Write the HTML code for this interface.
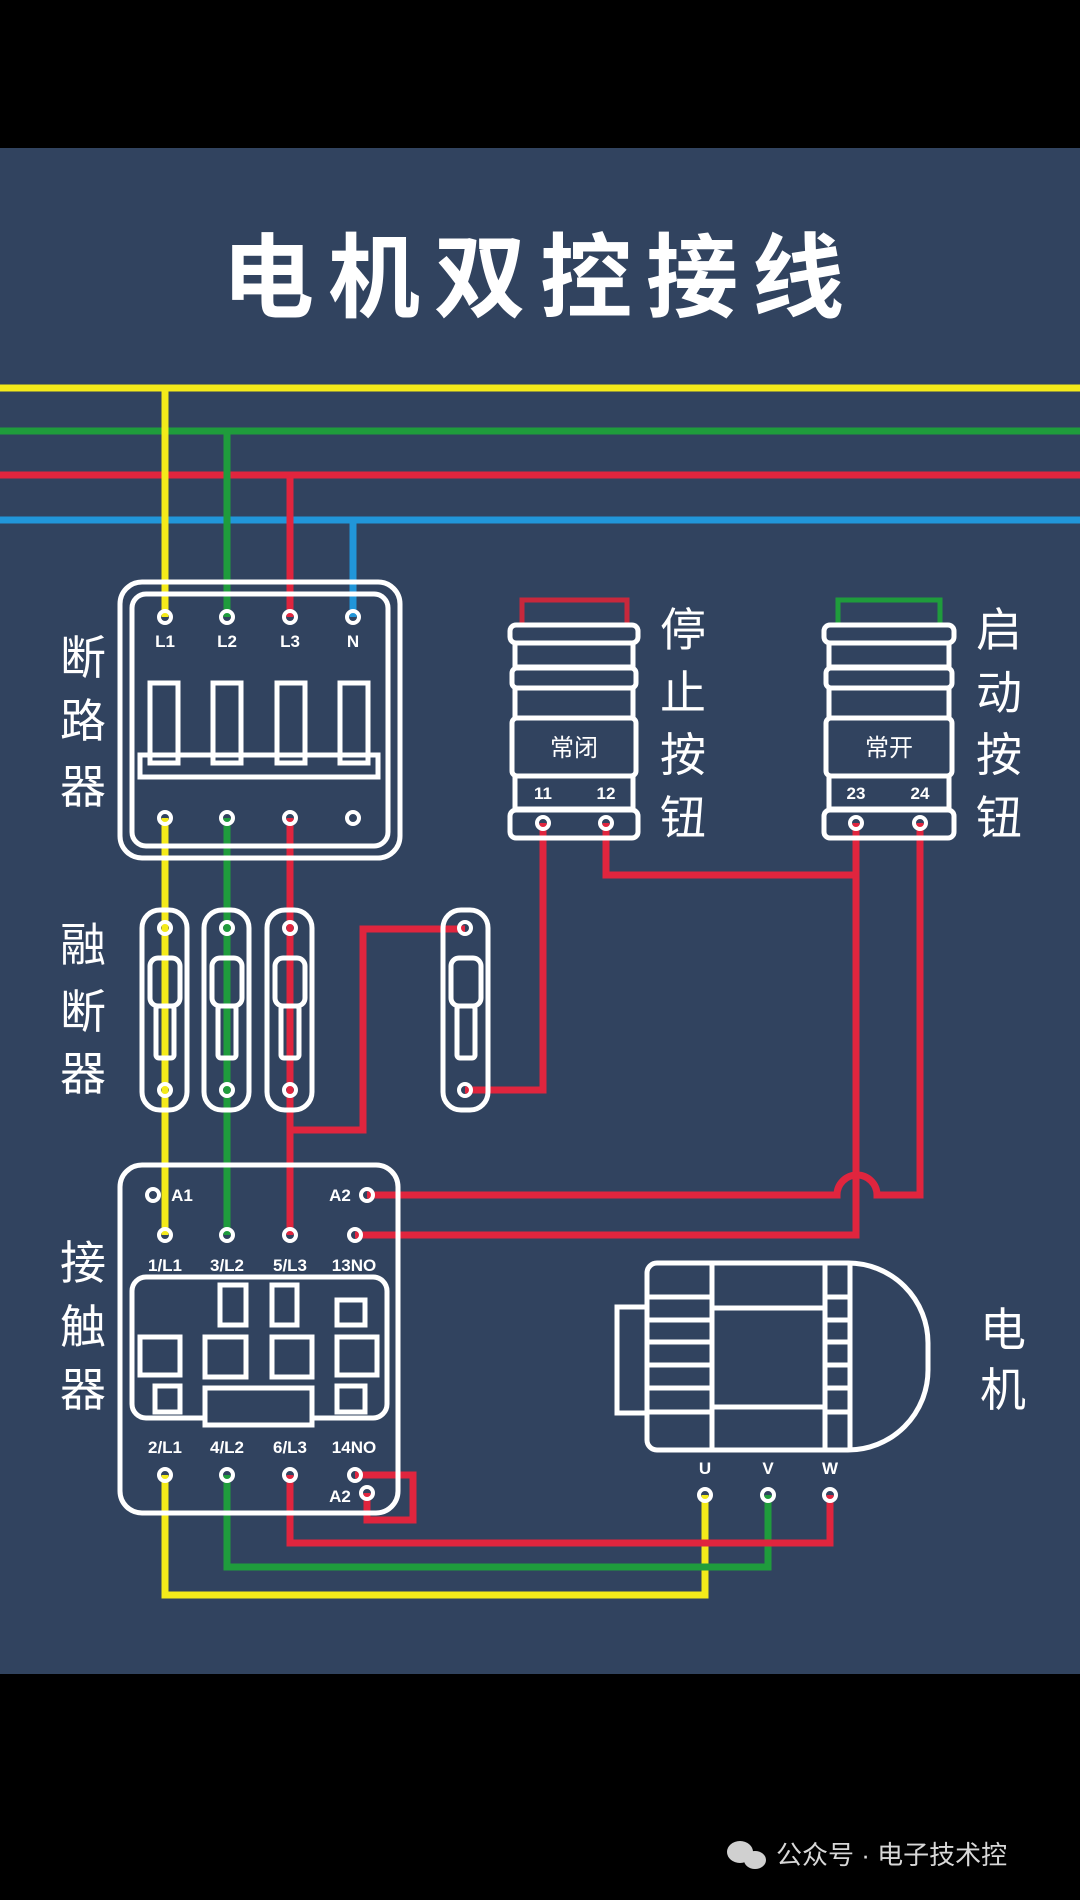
<!DOCTYPE html>
<html><head><meta charset="utf-8"><style>
html,body{margin:0;padding:0;background:#000;}
svg{display:block}
text{font-family:"Liberation Sans","Noto Sans CJK SC",sans-serif;fill:#fff}
</style></head><body>
<svg width="1080" height="1900" viewBox="0 0 1080 1900" xmlns="http://www.w3.org/2000/svg">
<rect x="0" y="0" width="1080" height="1900" fill="#000"/>
<rect x="0" y="148" width="1080" height="1526" fill="#31435f"/>
<text x="540" y="310" font-size="92" font-weight="bold" text-anchor="middle" letter-spacing="14">电机双控接线</text>

<g fill="none" stroke-width="7" stroke-linejoin="miter">
<line x1="0" y1="388" x2="1080" y2="388" stroke="#f4ea1a"/>
<line x1="0" y1="431" x2="1080" y2="431" stroke="#1f9c3c"/>
<line x1="0" y1="475" x2="1080" y2="475" stroke="#e0253e"/>
<line x1="0" y1="520" x2="1080" y2="520" stroke="#2196d9"/>
<polyline points="165,388 165,617" stroke="#f4ea1a"/>
<polyline points="227,431 227,617" stroke="#1f9c3c"/>
<polyline points="290,475 290,617" stroke="#e0253e"/>
<polyline points="353,520 353,617" stroke="#2196d9"/>
<line x1="165" y1="818" x2="165" y2="1235" stroke="#f4ea1a"/>
<line x1="227" y1="818" x2="227" y2="1235" stroke="#1f9c3c"/>
<line x1="290" y1="818" x2="290" y2="1235" stroke="#e0253e"/>
<polyline points="290,1130 363,1130 363,929 465,929" stroke="#e0253e"/>
<polyline points="465,1090 543,1090 543,823" stroke="#e0253e"/>
<polyline points="606,823 606,875 856,875" stroke="#e0253e"/>
<polyline points="856,823 856,1235 355,1235" stroke="#e0253e"/>
<path d="M920,823 V1195 H877 A20,20 0 0 0 837,1195 H367" stroke="#e0253e"/>
<polyline points="355,1475 413,1475 413,1520 367,1520 367,1493" stroke="#e0253e"/>
<polyline points="165,1475 165,1595 705,1595 705,1495" stroke="#f4ea1a"/>
<polyline points="227,1475 227,1567 768,1567 768,1495" stroke="#1f9c3c"/>
<polyline points="290,1475 290,1543 830,1543 830,1495" stroke="#e0253e"/>
<polyline points="522,625 522,600 627,600 627,625" stroke="#c8283c" stroke-width="5"/>
<polyline points="838,625 838,600 940,600 940,625" stroke="#1f9c3c" stroke-width="5"/>
</g>

<g fill="none" stroke="#fff" stroke-width="5">
<rect x="120" y="582" width="280" height="276" rx="22"/>
<rect x="132" y="594" width="256" height="252" rx="14"/>
<rect x="150" y="683" width="28" height="80"/>
<rect x="213" y="683" width="28" height="80"/>
<rect x="277" y="683" width="28" height="80"/>
<rect x="340" y="683" width="28" height="80"/>
<rect x="140" y="755" width="238" height="22"/>
<rect x="142" y="910" width="45" height="200" rx="18"/>
<rect x="204" y="910" width="45" height="200" rx="18"/>
<rect x="267" y="910" width="45" height="200" rx="18"/>
<rect x="443" y="910" width="45" height="200" rx="18"/>
<g>
<rect x="150" y="958" width="30" height="48" rx="8"/><rect x="156" y="1006" width="18" height="52" rx="3"/>
<rect x="212" y="958" width="30" height="48" rx="8"/><rect x="218" y="1006" width="18" height="52" rx="3"/>
<rect x="275" y="958" width="30" height="48" rx="8"/><rect x="281" y="1006" width="18" height="52" rx="3"/>
<rect x="451" y="958" width="30" height="48" rx="8"/><rect x="457" y="1006" width="18" height="52" rx="3"/>
</g>
<rect x="510" y="625" width="128" height="18" rx="6"/>
<rect x="515" y="643" width="118" height="24"/>
<rect x="512" y="668" width="124" height="20" rx="5"/>
<rect x="515" y="688" width="118" height="30"/>
<rect x="512" y="718" width="124" height="58" rx="5"/>
<rect x="515" y="776" width="118" height="33"/>
<rect x="510" y="810" width="128" height="28" rx="6"/>
<rect x="824" y="625" width="130" height="18" rx="6"/>
<rect x="829" y="643" width="120" height="24"/>
<rect x="826" y="668" width="126" height="20" rx="5"/>
<rect x="829" y="688" width="120" height="30"/>
<rect x="826" y="718" width="126" height="58" rx="5"/>
<rect x="829" y="776" width="120" height="33"/>
<rect x="824" y="810" width="130" height="28" rx="6"/>
<rect x="120" y="1165" width="278" height="348" rx="22"/>
<rect x="132" y="1277" width="255" height="141" rx="14"/>
<rect x="140" y="1337" width="40" height="38"/>
<rect x="155" y="1386" width="25" height="26"/>
<rect x="220" y="1285" width="26" height="40"/>
<rect x="272" y="1285" width="25" height="40"/>
<rect x="205" y="1337" width="41" height="40"/>
<rect x="272" y="1337" width="40" height="40"/>
<rect x="205" y="1388" width="107" height="37" fill="#31435f"/>
<rect x="337" y="1300" width="28" height="25"/>
<rect x="337" y="1337" width="40" height="38"/>
<rect x="337" y="1386" width="28" height="26"/>
<rect x="617" y="1307" width="30" height="106"/>
<path d="M657,1263 H848 A80,80 0 0 1 928,1343 V1370 A80,80 0 0 1 848,1450 H657 A10,10 0 0 1 647,1440 V1273 A10,10 0 0 1 657,1263 Z"/>
<line x1="712" y1="1263" x2="712" y2="1450"/>
<line x1="825" y1="1263" x2="825" y2="1450"/>
<line x1="850" y1="1263" x2="850" y2="1450"/>
<rect x="712" y="1308" width="113" height="99"/>
<path d="M647,1297H712M647,1320H712M647,1342H712M647,1365H712M647,1388H712M647,1412H712"/>
<path d="M825,1297H850M825,1320H850M825,1342H850M825,1365H850M825,1388H850M825,1412H850"/>
</g>

<g fill="none" stroke="#fff" stroke-width="4">
<circle cx="165" cy="617" r="6"/><circle cx="227" cy="617" r="6"/><circle cx="290" cy="617" r="6"/><circle cx="353" cy="617" r="6"/>
<circle cx="165" cy="818" r="6"/><circle cx="227" cy="818" r="6"/><circle cx="290" cy="818" r="6"/><circle cx="353" cy="818" r="6"/>
<circle cx="165" cy="928" r="6"/><circle cx="227" cy="928" r="6"/><circle cx="290" cy="928" r="6"/><circle cx="465" cy="928" r="6"/>
<circle cx="165" cy="1090" r="6"/><circle cx="227" cy="1090" r="6"/><circle cx="290" cy="1090" r="6"/><circle cx="465" cy="1090" r="6"/>
<circle cx="543" cy="823" r="6"/><circle cx="606" cy="823" r="6"/><circle cx="856" cy="823" r="6"/><circle cx="920" cy="823" r="6"/>
<circle cx="153" cy="1195" r="6"/><circle cx="367" cy="1195" r="6"/>
<circle cx="165" cy="1235" r="6"/><circle cx="227" cy="1235" r="6"/><circle cx="290" cy="1235" r="6"/><circle cx="355" cy="1235" r="6"/>
<circle cx="165" cy="1475" r="6"/><circle cx="227" cy="1475" r="6"/><circle cx="290" cy="1475" r="6"/><circle cx="355" cy="1475" r="6"/>
<circle cx="367" cy="1493" r="6"/>
<circle cx="705" cy="1495" r="6"/><circle cx="768" cy="1495" r="6"/><circle cx="830" cy="1495" r="6"/>
</g>

<g font-size="17" font-weight="bold" text-anchor="middle">
<text x="165" y="647">L1</text><text x="227" y="647">L2</text><text x="290" y="647">L3</text><text x="353" y="647">N</text>
<text x="182" y="1201">A1</text><text x="340" y="1201">A2</text>
<text x="165" y="1271">1/L1</text><text x="227" y="1271">3/L2</text><text x="290" y="1271">5/L3</text><text x="354" y="1271">13NO</text>
<text x="165" y="1453">2/L1</text><text x="227" y="1453">4/L2</text><text x="290" y="1453">6/L3</text><text x="354" y="1453">14NO</text>
<text x="340" y="1502">A2</text>
<text x="543" y="799">11</text><text x="606" y="799">12</text>
<text x="856" y="799">23</text><text x="920" y="799">24</text>
<text x="705" y="1474">U</text><text x="768" y="1474">V</text><text x="830" y="1474">W</text>
</g>
<g font-size="24" text-anchor="middle">
<text x="574" y="756">常闭</text><text x="889" y="756">常开</text>
</g>

<g font-size="46" text-anchor="middle">
<text x="83" y="674">断</text><text x="83" y="737">路</text><text x="83" y="803">器</text>
<text x="83" y="961">融</text><text x="83" y="1028">断</text><text x="83" y="1090">器</text>
<text x="83" y="1279">接</text><text x="83" y="1343">触</text><text x="83" y="1406">器</text>
<text x="683" y="646">停</text><text x="683" y="709">止</text><text x="683" y="771">按</text><text x="683" y="834">钮</text>
<text x="999" y="646">启</text><text x="999" y="709">动</text><text x="999" y="771">按</text><text x="999" y="834">钮</text>
<text x="1003" y="1346">电</text><text x="1003" y="1406">机</text>
</g>

<g fill="#d0d0d0">
<ellipse cx="740" cy="1852" rx="13" ry="11"/>
<ellipse cx="755" cy="1860" rx="11" ry="9"/>
</g>
<text x="776" y="1864" font-size="26" style="fill:#d8d8d8">公众号 · 电子技术控</text>
</svg>
</body></html>
